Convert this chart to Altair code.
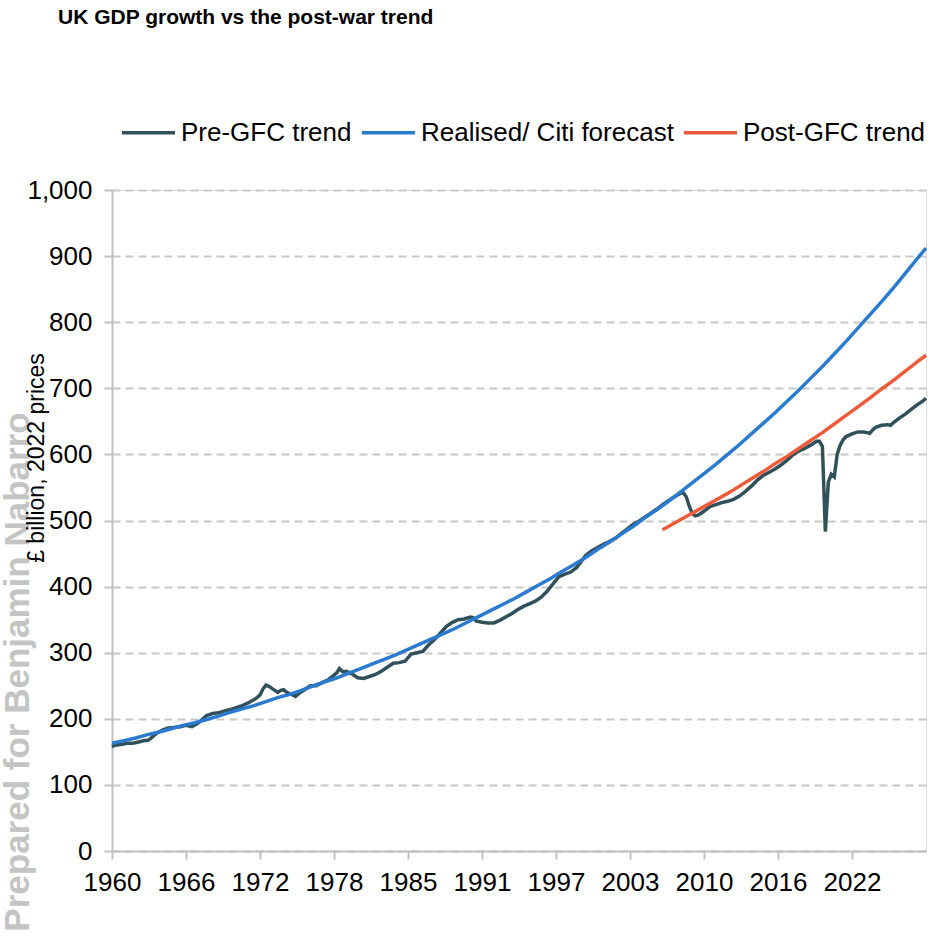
import altair as alt
import pandas as pd

# ---- data ----
gdp_t = [1960.0, 1960.25, 1960.75, 1961.25, 1961.75, 1962.25, 1962.75, 1963.0, 1963.25, 1963.75,
         1964.25, 1964.75, 1965.25, 1965.75, 1966.25, 1966.75, 1967.25, 1967.75, 1968.0, 1968.5,
         1969.0, 1969.5, 1970.0, 1970.5, 1971.0, 1971.5, 1972.0, 1972.25, 1972.5, 1972.75,
         1973.0, 1973.25, 1973.5, 1973.75, 1974.0, 1974.25, 1974.5, 1974.75, 1975.25, 1975.5,
         1975.75, 1976.25, 1976.75, 1977.25, 1977.75, 1978.25, 1978.75, 1979.0, 1979.2, 1979.5,
         1979.8, 1980.25, 1980.75, 1981.25, 1981.75, 1982.25, 1982.75, 1983.25, 1983.75, 1984.25,
         1984.75, 1985.25, 1985.75, 1986.25, 1986.75, 1987.25, 1987.75, 1988.25, 1988.75, 1989.25,
         1989.75, 1990.25, 1990.5, 1990.75, 1991.25, 1991.75, 1992.25, 1992.75, 1993.25, 1993.75,
         1994.25, 1994.75, 1995.25, 1995.75, 1996.25, 1996.75, 1997.25, 1997.75, 1998.25, 1998.75,
         1999.25, 1999.75, 2000.0, 2000.5, 2001.0, 2001.5, 2002.0, 2002.5, 2003.0, 2003.5,
         2004.0, 2004.5, 2005.0, 2005.5, 2006.0, 2006.5, 2007.0, 2007.5, 2008.0, 2008.25,
         2008.5, 2008.75, 2009.0, 2009.25, 2009.5, 2010.0, 2010.5, 2011.0, 2011.5, 2012.0,
         2012.5, 2013.0, 2013.5, 2014.0, 2014.5, 2015.0, 2015.5, 2016.0, 2016.5, 2017.0,
         2017.5, 2018.0, 2018.5, 2019.0, 2019.5, 2019.75, 2020.0, 2020.25, 2020.5, 2020.75,
         2021.0, 2021.25, 2021.5, 2021.75, 2022.0, 2022.5, 2023.0, 2023.5, 2023.75, 2024.0,
         2024.25, 2024.5, 2025.0, 2025.5, 2025.75, 2026.0, 2026.5, 2027.0, 2027.5, 2028.0,
         2028.5, 2028.75]
gdp_v = [158, 160, 161, 163, 163, 165, 167, 167, 170, 178,
         183, 186, 187, 188, 190, 188, 193, 201, 205, 208,
         209, 212, 214, 217, 220, 224, 229, 232, 236, 245,
         251, 249, 246, 243, 240, 243, 244, 240, 236, 234,
         238, 244, 250, 250, 255, 259, 266, 270, 276, 271,
         272, 268, 262, 261, 264, 267, 272, 278, 284, 285,
         287, 298, 300, 302, 312, 320, 330, 340, 346, 350,
         351, 354, 353, 348, 346, 345, 345, 349, 354, 359,
         365, 370, 374, 378, 384, 393, 404, 415, 419, 422,
         429, 441, 447, 454, 459, 464, 468, 473, 480, 487,
         494, 499, 505, 511, 517, 524, 530, 536, 541, 542,
         536, 522, 511, 507, 508, 514, 521, 524, 527, 529,
         532, 537, 544, 552, 561, 568, 573, 578, 584, 591,
         599, 605, 609, 614, 620, 620, 612, 483, 558, 570,
         566, 600, 614, 622, 627, 631, 634, 634, 633, 632,
         637, 641, 644, 645, 644, 648, 655, 661, 668, 675,
         681, 685]

trend_t = list(range(1960, 2029)) + [2028.75]
trend_v = [163, 167, 171, 176, 180, 185, 190, 194, 199, 204,
           210, 215, 220, 226, 232, 237, 243, 250, 256, 262,
           269, 276, 283, 290, 297, 305, 313, 321, 329, 337,
           346, 355, 364, 373, 382, 392, 402, 412, 423, 433,
           444, 456, 467, 479, 491, 504, 516, 529, 543, 557,
           571, 585, 600, 615, 631, 647, 663, 680, 697, 715,
           733, 752, 771, 791, 811, 831, 852, 874, 896, 912]

post_t = [2006.5] + list(range(2007, 2029)) + [2028.75]
post_v = [486, 491, 501, 511, 521, 531, 541, 552, 563, 574,
          586, 597, 609, 621, 633, 646, 659, 672, 685, 699,
          712, 726, 740, 750]

series = ["Pre-GFC trend", "Realised/ Citi forecast", "Post-GFC trend"]
colors = ["#31515A", "#2A7BCF", "#EE5B3B"]

x_ticks = [1960, 1966.25, 1972.5, 1978.75, 1985, 1991.25, 1997.5, 2003.75, 2010, 2016.25, 2022.5]
y_ticks = list(range(0, 1001, 100))

df = pd.concat([
    pd.DataFrame({"t": gdp_t, "v": gdp_v, "s": series[0]}),
    pd.DataFrame({"t": trend_t, "v": trend_v, "s": series[1]}),
    pd.DataFrame({"t": post_t, "v": post_v, "s": series[2]}),
], ignore_index=True)

FONT = "Liberation Sans, Arial, sans-serif"

x_enc = alt.X("t:Q",
              scale=alt.Scale(domain=[1960, 2028.75], nice=False, zero=False),
              axis=alt.Axis(values=x_ticks, labelExpr="floor(datum.value)", title=None,
                            grid=False, domainColor="#c0c0c0", domainWidth=2,
                            tickColor="#c0c0c0", tickWidth=2, tickSize=8,
                            labelFont=FONT, labelFontSize=26, labelColor="#000000",
                            labelPadding=10, labelFlush=False, labelOverlap=False))
y_enc = alt.Y("v:Q",
              scale=alt.Scale(domain=[0, 1000], nice=False),
              axis=alt.Axis(values=y_ticks, format=",d", title=None,
                            grid=True, gridDash=[8, 5], gridColor="#c8c8c8", gridWidth=2,
                            domainColor="#c0c0c0", domainWidth=2,
                            tickColor="#c0c0c0", tickWidth=2, tickSize=8,
                            labelFont=FONT, labelFontSize=26, labelColor="#000000",
                            labelPadding=12))
c_enc = alt.Color("s:N", scale=alt.Scale(domain=series, range=colors),
                  legend=alt.Legend(title=None, orient="none", legendX=8, legendY=-86,
                                    direction="horizontal", symbolType="stroke",
                                    symbolSize=2809, symbolStrokeWidth=3.5,
                                    labelFont=FONT, labelFontSize=26, labelColor="#000000",
                                    labelOffset=4, columnPadding=3, labelLimit=500))

base = alt.Chart(df).encode(x=x_enc, y=y_enc, color=c_enc)
lines = [base.transform_filter(alt.datum.s == s).mark_line(strokeWidth=3.5) for s in series]

one = pd.DataFrame({"k": [0]})
watermark = alt.Chart(one).mark_text(
    text="Prepared for Benjamin Nabarro", angle=270, align="center", baseline="middle",
    font=FONT, fontSize=35, fontWeight="bold", color="#c4c4c4"
).encode(x=alt.value(-94), y=alt.value(482))
ytitle = alt.Chart(one).mark_text(
    text="£ billion, 2022 prices", angle=270, align="center", baseline="middle",
    font=FONT, fontSize=23, color="#000000"
).encode(x=alt.value(-75), y=alt.value(268))
title = alt.Chart(one).mark_text(
    text="UK GDP growth vs the post-war trend", align="left", baseline="middle",
    font=FONT, fontSize=21, fontWeight="bold", color="#000000"
).encode(x=alt.value(-54), y=alt.value(-172))

chart = alt.layer(watermark, ytitle, title, *lines).properties(
    width=814, height=661,
    autosize=alt.AutoSizeParams(type="none"),
    padding={"left": 112, "top": 190, "right": 10, "bottom": 92},
).configure_view(stroke=None).configure(background="white")

chart.save("out.html", embed_options={"renderer": "svg", "actions": False})
